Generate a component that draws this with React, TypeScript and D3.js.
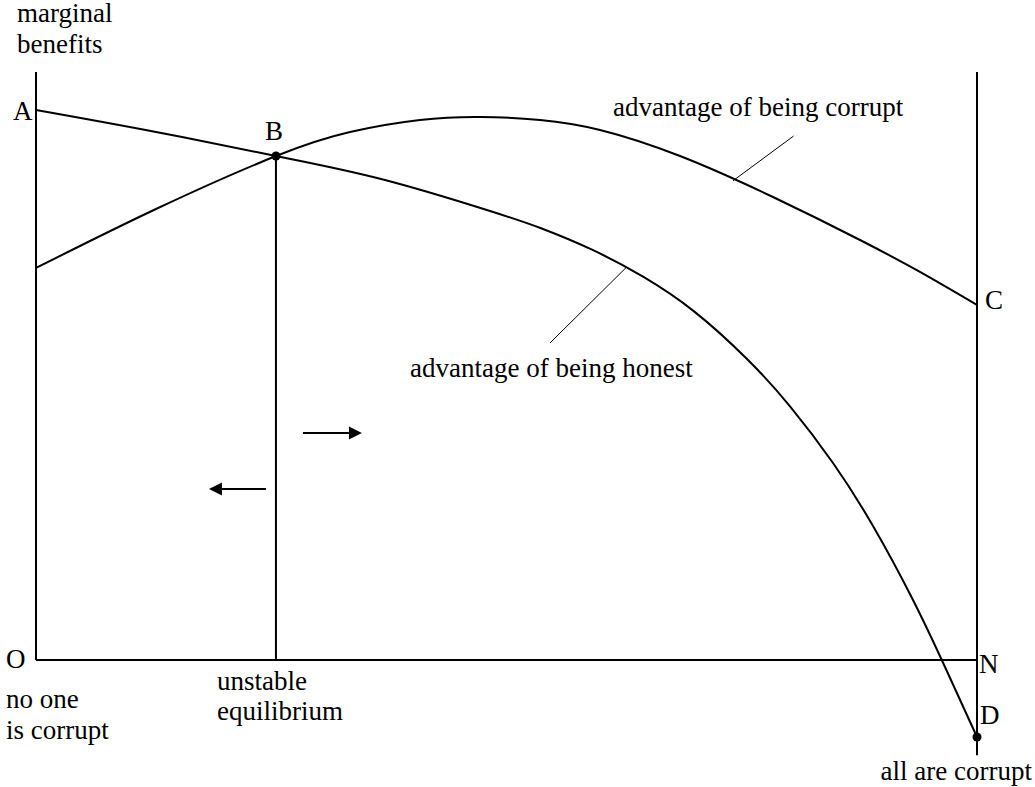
import * as d3 from 'd3';

// share of corrupt agents (0 = no one, 100 = all) and marginal benefit values
const honestShare = [0, 12.75, 25.5, 36.88, 48.25, 53.67, 59.09, 64.51, 69.93, 75.56, 80.13, 84.7, 88.95, 93.2, 96.6, 100];
const honestBenefit = [93.54, 89.8, 85.71, 81.72, 76.36, 73.42, 69.78, 65.19, 59.29, 51.19, 43.15, 33.5, 22.79, 10.2, -1.19, -13.1];

const corruptShare = [0, 12.75, 25.5, 33.37, 40.81, 47.18, 53.56, 59.94, 68.44, 78.32, 87.57, 93.94, 100];
const corruptBenefit = [66.67, 76.7, 85.71, 89.8, 91.84, 92.35, 91.84, 90.14, 85.71, 78.74, 71.43, 65.99, 60.37];

// equilibrium B and the end point D
const equilibriumShare = 25.5;
const equilibriumBenefit = 85.71;
const allCorruptBenefit = -13.1;

// direction arrows: [fromShare, toShare, benefit]
const arrowRight = [28.37, 34.64, 38.6];
const arrowLeft = [24.44, 18.38, 29.08];

// leader lines: [labelShare, labelBenefit, curveShare, curveBenefit]
const corruptLeaderPts = [80.5, 89.1, 74.07, 81.5];
const honestLeaderPts = [54.62, 53.91, 62.7, 66.72];

const yAxisLabel = ['marginal', 'benefits'];
const leftLabel = ['no one', 'is corrupt'];
const middleLabel = ['unstable', 'equilibrium'];
const rightLabel = 'all are corrupt';
const corruptCurveLabel = 'advantage of being corrupt';
const honestCurveLabel = 'advantage of being honest';

const WIDTH = 1035;
const HEIGHT = 787;
const FONT = '"Liberation Serif", "Times New Roman", Times, serif';
const FONT_SIZE = 27;
const INK = '#000';

export default function App() {
  const x = d3.scaleLinear().domain([0, 100]).range([36, 977]);
  const y = d3.scaleLinear().domain([0, 100]).range([660, 72]);

  const line = d3
    .line<[number, number]>()
    .x((d) => x(d[0]))
    .y((d) => y(d[1]))
    .curve(d3.curveNatural);

  const honestPath = line(honestShare.map((s, i) => [s, honestBenefit[i]]));
  const corruptPath = line(corruptShare.map((s, i) => [s, corruptBenefit[i]]));

  const arrow = (spec: number[], key: string) => {
    const [from, to, v] = spec;
    const x0 = x(from);
    const x1 = x(to);
    const yy = y(v);
    const dir = Math.sign(x1 - x0);
    const head = 13;
    const half = 6.5;
    return (
      <g key={key}>
        <line x1={x0} y1={yy} x2={x1 - dir * head} y2={yy} stroke={INK} strokeWidth={2} />
        <path d={`M${x1},${yy}L${x1 - dir * head},${yy - half}L${x1 - dir * head},${yy + half}Z`} fill={INK} />
      </g>
    );
  };

  const leader = (p: number[], key: string) => (
    <line key={key} x1={x(p[0])} y1={y(p[1])} x2={x(p[2])} y2={y(p[3])} stroke={INK} strokeWidth={1} />
  );

  const text = (s: string, tx: number, ty: number, key: string, anchor = 'start') => (
    <text key={key} x={tx} y={ty} textAnchor={anchor} fontFamily={FONT} fontSize={FONT_SIZE} fill={INK}>
      {s}
    </text>
  );

  const bx = x(equilibriumShare);
  const by = y(equilibriumBenefit);
  const dy = y(allCorruptBenefit);

  return (
    <svg
      width={WIDTH}
      height={HEIGHT}
      style={{ position: 'absolute', left: 0, top: 0, background: '#fff' }}
    >
      {/* axes */}
      <line x1={x(0)} y1={y(100)} x2={x(0)} y2={y(0)} stroke={INK} strokeWidth={2} />
      <line x1={x(0)} y1={y(0)} x2={x(100)} y2={y(0)} stroke={INK} strokeWidth={2} />
      <line x1={x(100)} y1={y(100)} x2={x(100)} y2={y(-16.2)} stroke={INK} strokeWidth={2} />

      {/* curves */}
      <path d={corruptPath || ''} fill="none" stroke={INK} strokeWidth={2} />
      <path d={honestPath || ''} fill="none" stroke={INK} strokeWidth={2} />

      {/* equilibrium drop line */}
      <line x1={bx} y1={by} x2={bx} y2={y(0)} stroke={INK} strokeWidth={2} />
      <circle cx={bx} cy={by} r={4.5} fill={INK} />
      <circle cx={x(100)} cy={dy} r={4.5} fill={INK} />

      {arrow(arrowRight, 'ar')}
      {arrow(arrowLeft, 'al')}

      {leader(corruptLeaderPts, 'lc')}
      {leader(honestLeaderPts, 'lh')}

      {text(yAxisLabel[0], 17, 22, 'ya0')}
      {text(yAxisLabel[1], 17, 53, 'ya1')}
      {text('A', x(0) - 23, y(honestBenefit[0]) + 10, 'A')}
      {text('B', bx - 11, by - 16, 'B')}
      {text('C', x(100) + 8, y(corruptBenefit[corruptBenefit.length - 1]) + 4, 'C')}
      {text('O', 6, y(0) + 8, 'O')}
      {text('N', x(100) + 2, y(0) + 13, 'N')}
      {text('D', x(100) + 3, dy - 13, 'D')}
      {text(leftLabel[0], 6, 708, 'l0')}
      {text(leftLabel[1], 6, 739, 'l1')}
      {text(middleLabel[0], 217, 690, 'm0')}
      {text(middleLabel[1], 217, 720, 'm1')}
      {text(rightLabel, 1032, 780, 'r', 'end')}
      {text(corruptCurveLabel, 613, 116, 'cc')}
      {text(honestCurveLabel, 410, 377, 'hc')}
    </svg>
  );
}
